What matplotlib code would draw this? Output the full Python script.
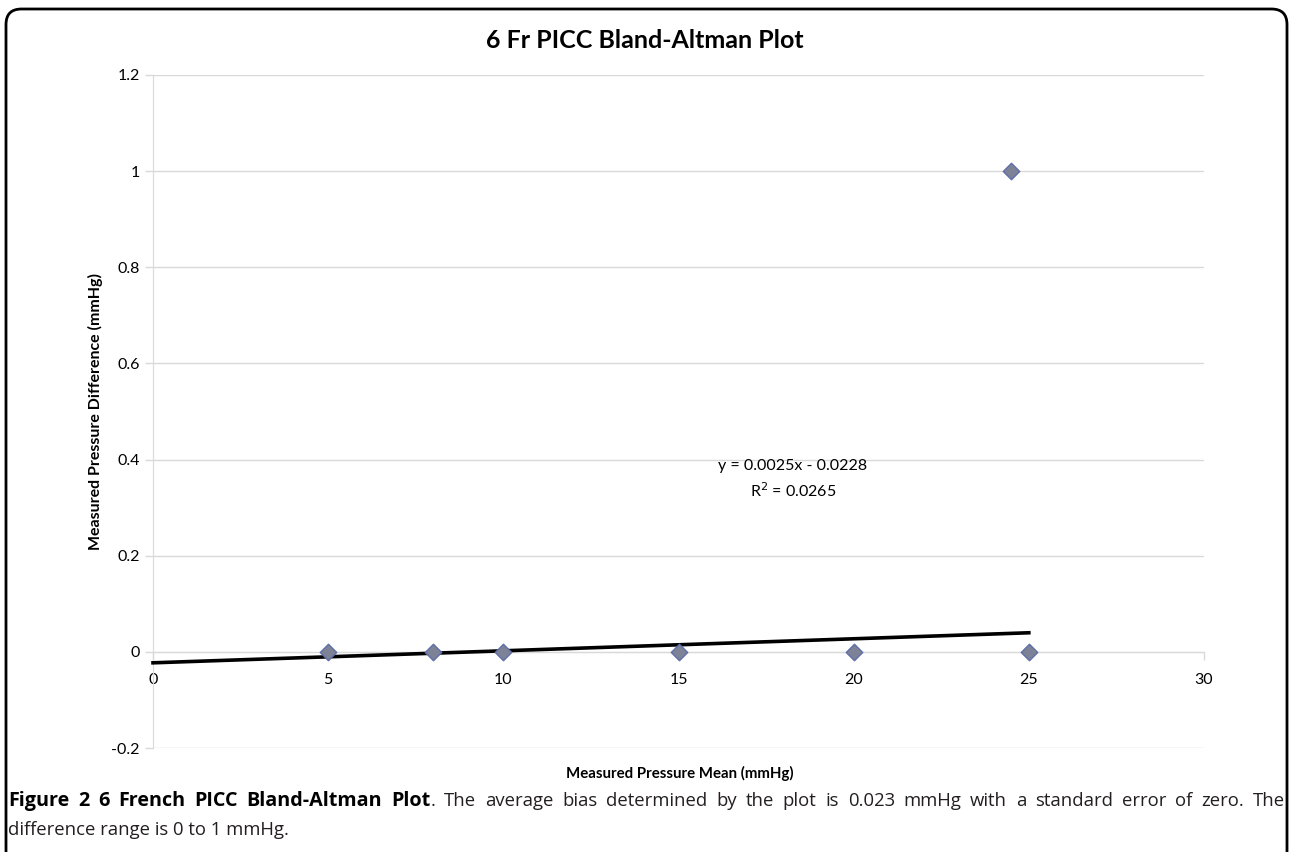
import matplotlib
matplotlib.use("Agg")
import matplotlib.pyplot as plt
from matplotlib.patches import FancyBboxPatch

# data
mean_vals = [5, 8, 10, 15, 20, 25, 24.5]
diff_vals = [0, 0, 0, 0, 0, 0, 1]
fit_slope = 0.0025
fit_icept = -0.0228
fit_r2 = 0.0265
fit_x = [0, 25]
x_ticks = [0, 5, 10, 15, 20, 25, 30]
y_ticks = [-0.2, 0, 0.2, 0.4, 0.6, 0.8, 1, 1.2]
y_tick_labels = ["-0.2", "0", "0.2", "0.4", "0.6", "0.8", "1", "1.2"]

plt.rcParams['font.family'] = ['Lato', 'DejaVu Sans']

fig = plt.figure(figsize=(12.92, 8.52), dpi=100)
ax = fig.add_axes([153 / 1292, 1 - 748 / 852, (1204 - 153) / 1292, (748 - 75) / 852])

grid_col = "#d9d9d9"
ax.set_xlim(0, 30)
ax.set_ylim(-0.2, 1.2)
ax.set_yticks(y_ticks)
ax.set_yticklabels(y_tick_labels)
ax.set_xticks(x_ticks)
ax.yaxis.grid(True, color=grid_col, lw=1)
ax.set_axisbelow(True)
for s in ["top", "right"]:
    ax.spines[s].set_visible(False)
ax.spines["bottom"].set_position(("data", 0))
ax.spines["bottom"].set_color(grid_col)
ax.spines["left"].set_color(grid_col)
ax.tick_params(axis="both", colors=grid_col, labelcolor="black", labelsize=11.5, length=6, width=1)
ax.tick_params(axis="x", pad=9)

fx = [fit_x[0], fit_x[1]]
fy = [fit_slope * v + fit_icept for v in fx]
ax.plot(fx, fy, color="black", lw=2.6, zorder=3, clip_on=False)
ax.scatter(mean_vals, diff_vals, marker="D", s=70, facecolor="#7d8296", edgecolor="#5f6ea8",
           linewidth=1, zorder=4, clip_on=False)

ax.text(18.27, 0.3875, "y = 0.0025x - 0.0228", ha="center", va="center", fontsize=11.5)
ax.text(18.27, 0.335, "R$^2$ = %.4f" % fit_r2, ha="center", va="center", fontsize=11.5)

ax.set_ylabel("Measured Pressure Difference (mmHg)", fontsize=11.5, fontweight="bold", labelpad=6)
fig.text(680 / 1292, 1 - 773 / 852, "Measured Pressure Mean (mmHg)", ha="center", va="center",
         fontsize=10.8, fontweight="bold")
fig.text(645 / 1292, 1 - 40 / 852, "6 Fr PICC Bland-Altman Plot", ha="center", va="center",
         fontsize=18, fontweight="bold")

# rounded border, bottom edge runs off the figure
box = FancyBboxPatch((6 / 1292, -0.05), (1287 - 6) / 1292, 1 - 9 / 852 + 0.05,
                     boxstyle="round,pad=0,rounding_size=0.012", transform=fig.transFigure,
                     facecolor="none", edgecolor="black", lw=2, mutation_aspect=1292 / 852)
fig.patches.append(box)

# caption, first line justified
cap_font = ['Open Sans', 'DejaVu Sans']
cap_size = 13.3
bold_size = 14.2
line1 = [("Figure", True), ("2", True), ("6", True), ("French", True), ("PICC", True),
         ("Bland-Altman", True), ("Plot", True), (".", False), ("The", False), ("average", False),
         ("bias", False), ("determined", False), ("by", False), ("the", False), ("plot", False),
         ("is", False), ("0.023", False), ("mmHg", False), ("with", False), ("a", False),
         ("standard", False), ("error", False), ("of", False), ("zero.", False), ("The", False)]
line2 = "difference range is 0 to 1 mmHg."

fig.canvas.draw()
rend = fig.canvas.get_renderer()
x0, x1 = 8, 1285
y1 = 852 - 806
objs = []
widths = []
for w, b in line1:
    t = fig.text(0, y1 / 852, w, fontsize=bold_size if b else cap_size, family=cap_font,
                 fontweight="bold" if b else "normal", color="black" if b else "#231f20",
                 va="baseline")
    objs.append(t)
    widths.append(t.get_window_extent(rend).width)
# "Plot" and "." have no gap between them
gaps = [0 if line1[i + 1][0] == "." else 1 for i in range(len(line1) - 1)]
space = max((x1 - x0 - sum(widths)) / sum(gaps), 2)
pos = x0
for i, t in enumerate(objs):
    t.set_x(pos / 1292)
    pos += widths[i]
    if i < len(gaps):
        pos += space * gaps[i]
fig.text(x0 / 1292, (852 - 835) / 852, line2, fontsize=cap_size, family=cap_font,
         color="#231f20", va="baseline")

fig.savefig("out.png", dpi=100)
